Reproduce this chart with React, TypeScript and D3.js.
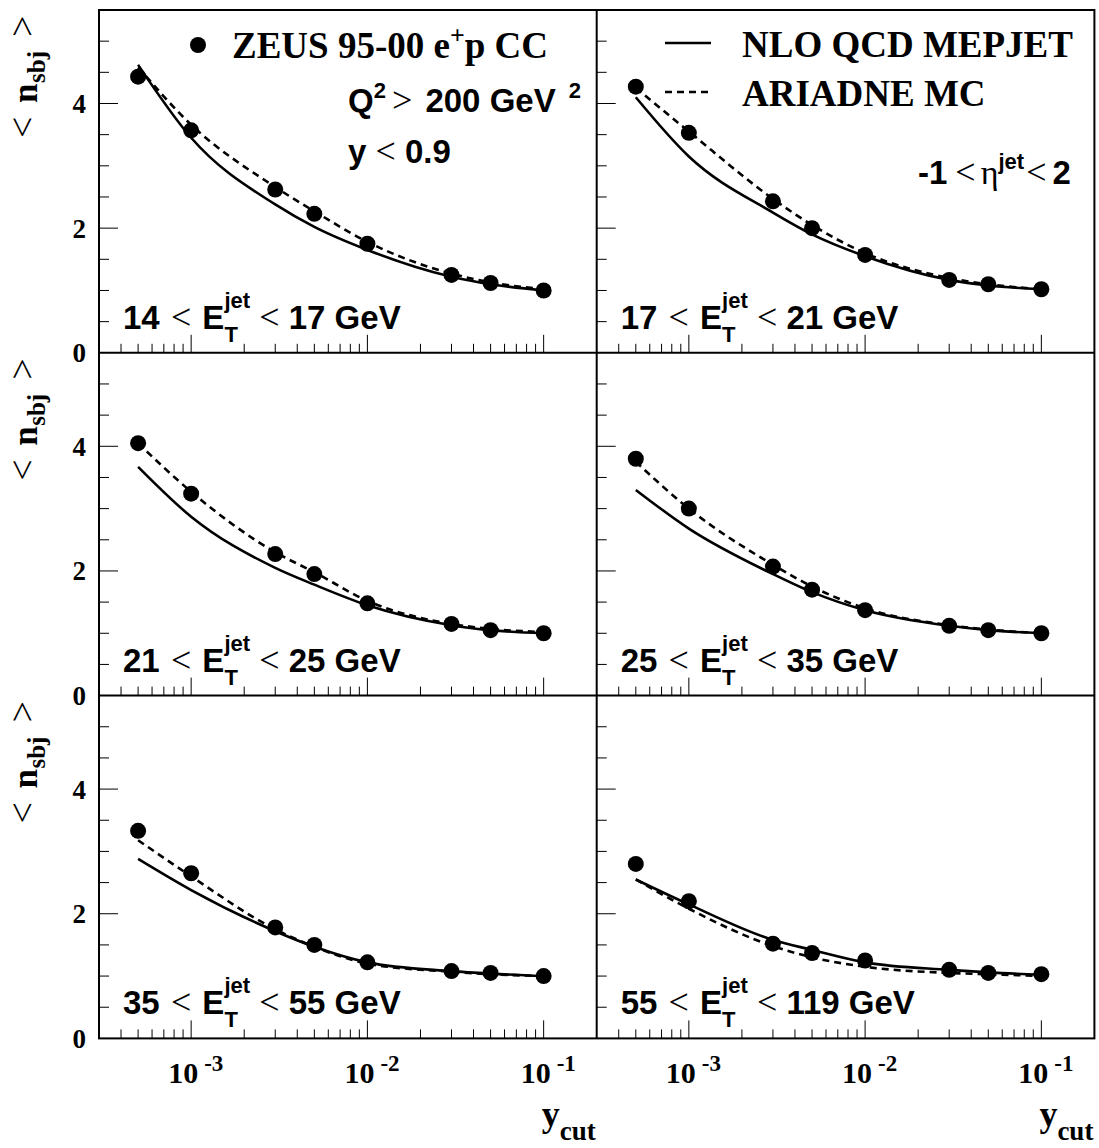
import React from "react";
import * as d3 from "d3";

// y_cut values at which the subjet multiplicity was measured
const yCut = [5e-4, 1e-3, 3e-3, 5e-3, 1e-2, 3e-2, 5e-2, 1e-1];

// ZEUS 95-00 e+p CC data, <n_sbj> per E_T^jet bin
const zeus14_17 = [4.43, 3.57, 2.62, 2.23, 1.75, 1.25, 1.12, 1.0];
const zeus17_21 = [4.27, 3.53, 2.43, 2.0, 1.57, 1.17, 1.1, 1.02];
const zeus21_25 = [4.05, 3.24, 2.27, 1.95, 1.48, 1.15, 1.05, 1.0];
const zeus25_35 = [3.8, 3.0, 2.07, 1.7, 1.37, 1.12, 1.05, 1.0];
const zeus35_55 = [3.33, 2.65, 1.78, 1.5, 1.22, 1.08, 1.05, 1.0];
const zeus55_119 = [2.8, 2.2, 1.52, 1.37, 1.25, 1.1, 1.05, 1.03];

// NLO QCD (MEPJET) predictions
const nlo14_17 = [4.62, 3.45, 2.38, 2.02, 1.65, 1.22, 1.1, 1.0];
const nlo17_21 = [4.1, 3.15, 2.25, 1.9, 1.55, 1.17, 1.08, 1.02];
const nlo21_25 = [3.67, 2.87, 2.05, 1.78, 1.45, 1.13, 1.05, 1.0];
const nlo25_35 = [3.3, 2.68, 1.95, 1.66, 1.37, 1.12, 1.05, 1.0];
const nlo35_55 = [2.88, 2.38, 1.72, 1.47, 1.22, 1.08, 1.04, 1.0];
const nlo55_119 = [2.55, 2.15, 1.58, 1.42, 1.22, 1.1, 1.06, 1.02];

// ARIADNE MC predictions
const ariadne14_17 = [4.58, 3.66, 2.66, 2.27, 1.78, 1.27, 1.13, 1.02];
const ariadne17_21 = [4.25, 3.55, 2.47, 2.05, 1.6, 1.2, 1.1, 1.02];
const ariadne21_25 = [4.05, 3.27, 2.3, 1.98, 1.52, 1.15, 1.07, 1.02];
const ariadne25_35 = [3.75, 3.0, 2.1, 1.75, 1.4, 1.13, 1.06, 1.0];
const ariadne35_55 = [3.18, 2.6, 1.75, 1.47, 1.2, 1.07, 1.03, 1.0];
const ariadne55_119 = [2.55, 2.08, 1.48, 1.3, 1.15, 1.05, 1.03, 1.0];

// E_T^jet bin edges (GeV)
const binLo = ["14", "17", "21", "25", "35", "55"];
const binHi = ["17", "21", "25", "35", "55", "119"];

const yTickLabels = [0, 2, 4];
const xTickLabels = [
  { v: 1e-3, exp: "-3" },
  { v: 1e-2, exp: "-2" },
  { v: 1e-1, exp: "-1" },
];

const panels = [
  { zeus: zeus14_17, nlo: nlo14_17, ariadne: ariadne14_17 },
  { zeus: zeus17_21, nlo: nlo17_21, ariadne: ariadne17_21 },
  { zeus: zeus21_25, nlo: nlo21_25, ariadne: ariadne21_25 },
  { zeus: zeus25_35, nlo: nlo25_35, ariadne: ariadne25_35 },
  { zeus: zeus35_55, nlo: nlo35_55, ariadne: ariadne35_55 },
  { zeus: zeus55_119, nlo: nlo55_119, ariadne: ariadne55_119 },
];

const W = 1099;
const H = 1148;
const left = 99;
const top = 10;
const panelW = 497.7;
const panelH = 342.8;

const SERIF = "'Liberation Serif', 'Times New Roman', serif";
const SANS = "'Liberation Sans', Arial, sans-serif";

const x = d3.scaleLog().domain([3e-4, 0.2]).range([0, panelW]);
const y = d3.scaleLinear().domain([0, 5.5]).range([panelH, 0]);

const xTicks = x
  .ticks(30)
  .filter((t) => t > 3.01e-4 && t < 0.199)
  .map((t) => {
    const m = t / Math.pow(10, Math.floor(Math.log10(t) + 1e-9));
    return { t, major: Math.abs(m - 1) < 1e-6 };
  });
const yTicks = d3.range(0.5, 5.01, 0.5).map((v) => ({ v, major: v % 2 === 0 }));

const line = d3
  .line<number>()
  .x((_, i) => x(yCut[i]))
  .y((d) => y(d))
  .curve(d3.curveMonotoneX);

// Panel label: "lo < E_T^jet < hi GeV"
const supSize = 22;
const jetW = (0.278 + 0.556 + 0.333) * supSize;
const tW = 0.611 * supSize;

function EtLabel({ lo, hi }: { lo: string; hi: string }) {
  return (
    <text x={24} y={panelH - 24} fontFamily={SANS} fontWeight="bold" fontSize={33} fill="#000">
      <tspan>{lo} </tspan>
      <tspan dx={2} fontFamily={SERIF} fontWeight="normal" fontSize={36}>&lt;</tspan>
      <tspan dx={2}> E</tspan>
      <tspan fontSize={supSize} dy={-21}>jet</tspan>
      <tspan fontSize={supSize} dx={-jetW} dy={34}>T</tspan>
      <tspan dx={jetW - tW} dy={-13}> </tspan>
      <tspan fontFamily={SERIF} fontWeight="normal" fontSize={36}>&lt;</tspan>
      <tspan> {hi} GeV</tspan>
    </text>
  );
}

function Panel({ idx }: { idx: number }) {
  const row = Math.floor(idx / 2);
  const col = idx % 2;
  const p = panels[idx];
  const tx = left + col * panelW;
  const ty = top + row * panelH;
  return (
    <g transform={`translate(${tx},${ty})`}>
      {/* y ticks */}
      {yTicks.map((t) => (
        <line
          key={"y" + t.v}
          x1={0}
          x2={t.major ? 19 : 10}
          y1={y(t.v)}
          y2={y(t.v)}
          stroke="#000"
          strokeWidth={1}
        />
      ))}
      {/* x ticks */}
      {xTicks.map((t) => (
        <line
          key={"x" + t.t}
          x1={x(t.t)}
          x2={x(t.t)}
          y1={panelH}
          y2={panelH - (t.major ? 18 : 9)}
          stroke="#000"
          strokeWidth={1}
        />
      ))}
      <path d={line(p.ariadne) || ""} fill="none" stroke="#000" strokeWidth={2.6} strokeDasharray="7,5" />
      <path d={line(p.nlo) || ""} fill="none" stroke="#000" strokeWidth={2.6} />
      {p.zeus.map((v, i) => (
        <circle key={i} cx={x(yCut[i])} cy={y(v)} r={8} fill="#000" />
      ))}
      <EtLabel lo={binLo[idx]} hi={binHi[idx]} />
    </g>
  );
}

export default function App() {
  const rows = [0, 1, 2];
  return (
    <svg
      width={W}
      height={H}
      viewBox={`0 0 ${W} ${H}`}
      style={{ position: "absolute", left: 0, top: 0, background: "#fff" }}
    >
      <rect x={0} y={0} width={W} height={H} fill="#fff" />
      {panels.map((_, i) => (
        <Panel key={i} idx={i} />
      ))}

      {/* frames */}
      <rect x={left} y={top} width={2 * panelW} height={3 * panelH} fill="none" stroke="#000" strokeWidth={2} />
      <line x1={left + panelW} x2={left + panelW} y1={top} y2={top + 3 * panelH} stroke="#000" strokeWidth={2} />
      {[1, 2].map((r) => (
        <line key={r} x1={left} x2={left + 2 * panelW} y1={top + r * panelH} y2={top + r * panelH} stroke="#000" strokeWidth={2} />
      ))}

      {/* y tick labels and titles per row */}
      {rows.map((r) => (
        <g key={r}>
          {yTickLabels.map((v) => (
            <text
              key={v}
              x={86}
              y={top + r * panelH + y(v)}
              dy="0.35em"
              textAnchor="end"
              fontFamily={SERIF}
              fontWeight="bold"
              fontSize={27}
            >
              {v}
            </text>
          ))}
          <g transform={`translate(37,${top + r * panelH + 128}) rotate(-90)`}>
            <text fontFamily={SERIF} fontWeight="bold" fontSize={35}>
              <tspan x={0} dy={-2} fontWeight="normal" fontSize={38}>&lt;</tspan>
              <tspan x={35} dy={2}>n</tspan>
              <tspan x={55} dy={8} fontSize={25}>sbj</tspan>
              <tspan x={101} dy={-10} fontWeight="normal" fontSize={38}>&gt;</tspan>
            </text>
          </g>
        </g>
      ))}

      {/* x tick labels and titles per column */}
      {[0, 1].map((c) => (
        <g key={c}>
          {xTickLabels.map((t) => (
            <text
              key={t.exp}
              x={left + c * panelW + x(t.v) - 23}
              y={top + 3 * panelH + 45}
              fontFamily={SERIF}
              fontWeight="bold"
              fontSize={30}
            >
              10
              <tspan dx={6} dy={-12} fontSize={23}>{t.exp}</tspan>
            </text>
          ))}
          <text
            x={left + (c + 1) * panelW - 1}
            y={1126}
            textAnchor="end"
            fontFamily={SERIF}
            fontWeight="bold"
            fontSize={36}
          >
            y<tspan dy={14} fontSize={27}>cut</tspan>
          </text>
        </g>
      ))}

      {/* legend: data marker */}
      <circle cx={198} cy={45} r={8} fill="#000" />
      <text x={232} y={58} fontFamily={SERIF} fontWeight="bold" fontSize={37}>
        ZEUS 95-00 e<tspan dy={-14} fontSize={26}>+</tspan>
        <tspan dy={14}>p CC</tspan>
      </text>

      {/* kinematic cuts */}
      <text x={348} y={112} fontFamily={SANS} fontWeight="bold" fontSize={33}>
        Q<tspan dy={-14} fontSize={22}>2</tspan>
        <tspan dy={14} dx={6} fontFamily={SERIF} fontWeight="normal" fontSize={36}>&gt;</tspan>
        <tspan dx={4}> 200 GeV </tspan>
        <tspan dx={4} dy={-14} fontSize={22}>2</tspan>
      </text>
      <text x={348} y={163} fontFamily={SANS} fontWeight="bold" fontSize={33}>
        y <tspan fontFamily={SERIF} fontWeight="normal" fontSize={36}>&lt;</tspan> 0.9
      </text>

      {/* legend: predictions */}
      <line x1={665} x2={711} y1={43} y2={43} stroke="#000" strokeWidth={2.6} />
      <line x1={665} x2={711} y1={92} y2={92} stroke="#000" strokeWidth={2.6} strokeDasharray="7,5" />
      <text x={742} y={57} fontFamily={SERIF} fontWeight="bold" fontSize={37}>
        NLO QCD MEPJET
      </text>
      <text x={742} y={106} fontFamily={SERIF} fontWeight="bold" fontSize={37}>
        ARIADNE MC
      </text>

      <text x={918} y={184} fontFamily={SANS} fontWeight="bold" fontSize={33}>
        -1
        <tspan dx={8} fontFamily={SERIF} fontWeight="normal" fontSize={36}>&lt;</tspan>
        <tspan dx={5} fontFamily={SERIF} fontWeight="normal" fontSize={34}>η</tspan>
        <tspan dy={-15} fontSize={22}>jet</tspan>
        <tspan dx={2} dy={15} fontFamily={SERIF} fontWeight="normal" fontSize={36}>&lt;</tspan>
        <tspan dx={6}>2</tspan>
      </text>
    </svg>
  );
}
